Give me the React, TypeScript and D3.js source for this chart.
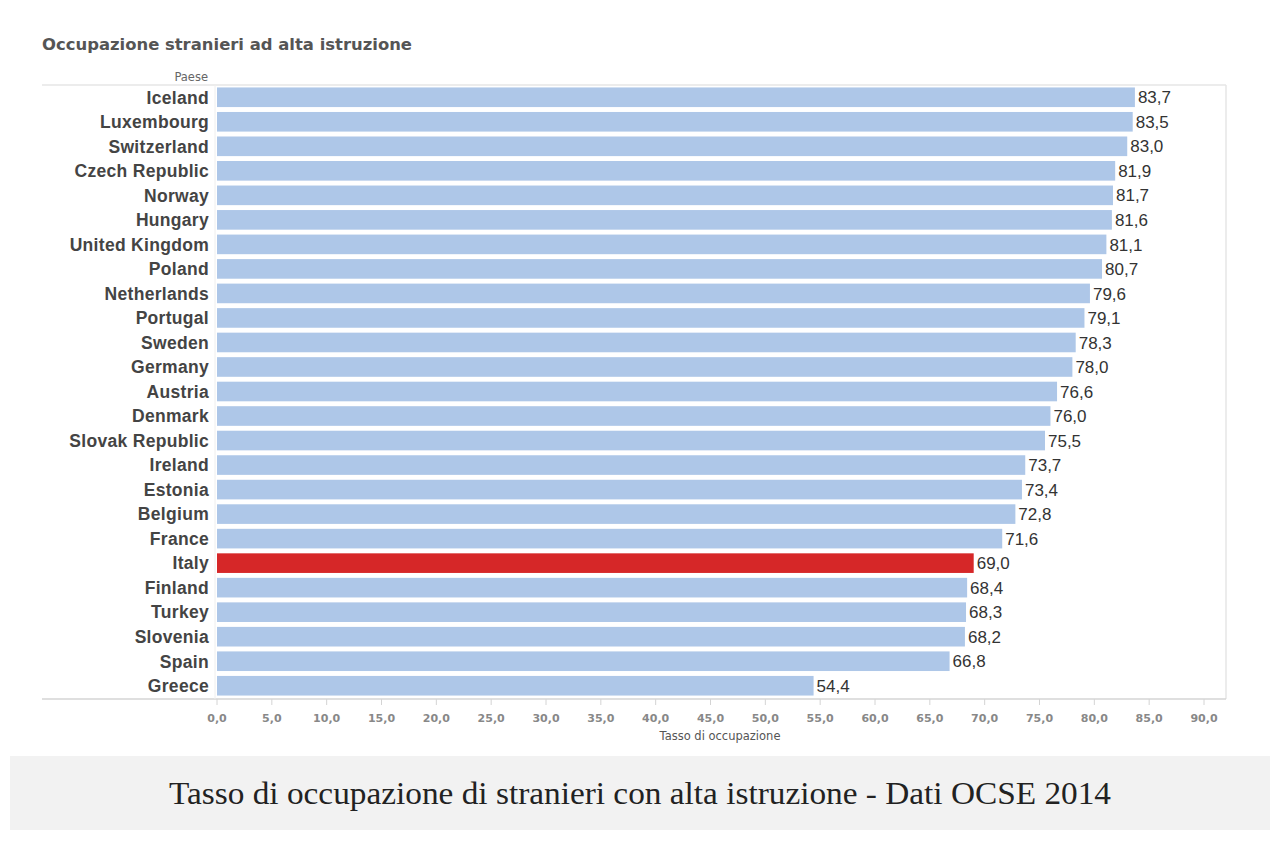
import React from "react";
import * as d3 from "d3";

const countries = ["Iceland","Luxembourg","Switzerland","Czech Republic","Norway","Hungary","United Kingdom","Poland","Netherlands","Portugal","Sweden","Germany","Austria","Denmark","Slovak Republic","Ireland","Estonia","Belgium","France","Italy","Finland","Turkey","Slovenia","Spain","Greece"];
const values = [83.7,83.5,83.0,81.9,81.7,81.6,81.1,80.7,79.6,79.1,78.3,78.0,76.6,76.0,75.5,73.7,73.4,72.8,71.6,69.0,68.4,68.3,68.2,66.8,54.4];
const xTicks = [0,5,10,15,20,25,30,35,40,45,50,55,60,65,70,75,80,85,90];
const highlight = "Italy";

const fmt = (v: number) => v.toFixed(1).replace(".", ",");

export default function App() {
  const x = d3.scaleLinear().domain([0, 90]).range([217, 1204]);
  const y = d3.scaleBand<string>().domain(countries).range([85, 698]).paddingInner(0.2).paddingOuter(0.1);
  const sans = "'Liberation Sans', Arial, sans-serif";
  const dv = "'DejaVu Sans', Verdana, sans-serif";
  const frameL = 42, frameR = 1226, top = 85, bottom = 699;
  return (
    <div style={{ position: "absolute", left: 0, top: 0 }}>
      <svg width={1280} height={842} style={{ display: "block", background: "#fff" }}>
        <text x={42} y={50} fontFamily={dv} fontSize={15} fontWeight="bold" fill="#555" textLength={370} lengthAdjust="spacingAndGlyphs">Occupazione stranieri ad alta istruzione</text>
        <text x={208} y={81} textAnchor="end" fontFamily={dv} fontSize={11.5} fill="#666">Paese</text>
        {/* frame */}
        <line x1={frameL} x2={frameR} y1={top} y2={top} stroke="#e6e6e6" strokeWidth={1.5} />
        <line x1={frameR} x2={frameR} y1={top} y2={bottom} stroke="#e6e6e6" strokeWidth={1.5} />
        <line x1={frameL} x2={frameR} y1={bottom} y2={bottom} stroke="#d4d4d4" strokeWidth={1.5} />
        <line x1={215} x2={215} y1={top} y2={bottom} stroke="#eeeeee" strokeWidth={1} />
        {countries.map((c, i) => {
          const yy = y(c)!;
          const h = y.bandwidth();
          const v = values[i];
          return (
            <g key={c}>
              <rect x={x(0)} y={yy} width={x(v) - x(0)} height={h} fill={c === highlight ? "#d62728" : "#aec7e8"} />
              <text x={209} y={yy + h / 2} dy="0.36em" textAnchor="end" fontFamily={sans} fontSize={17.5} fontWeight="bold" letterSpacing={0.3} fill="#444">{c}</text>
              <text x={x(v) + 3} y={yy + h / 2} dy="0.36em" fontFamily={sans} fontSize={17} fill="#333">{fmt(v)}</text>
            </g>
          );
        })}
        {xTicks.map((t) => (
          <g key={t}>
            <line x1={x(t)} x2={x(t)} y1={bottom} y2={bottom + 6} stroke="#d4d4d4" />
            <text x={x(t)} y={722} textAnchor="middle" fontFamily={dv} fontSize={11} fontWeight="bold" fill="#888">{fmt(t)}</text>
          </g>
        ))}
        <text x={720} y={740} textAnchor="middle" fontFamily={dv} fontSize={11.5} fill="#555">Tasso di occupazione</text>
        <rect x={10} y={756} width={1260} height={74} fill="#f2f2f2" />
        <text x={640} y={804} textAnchor="middle" fontFamily="'Liberation Serif', 'DejaVu Serif', serif" fontSize={32} fill="#222" textLength={942} lengthAdjust="spacingAndGlyphs">Tasso di occupazione di stranieri con alta istruzione - Dati OCSE 2014</text>
      </svg>
    </div>
  );
}
